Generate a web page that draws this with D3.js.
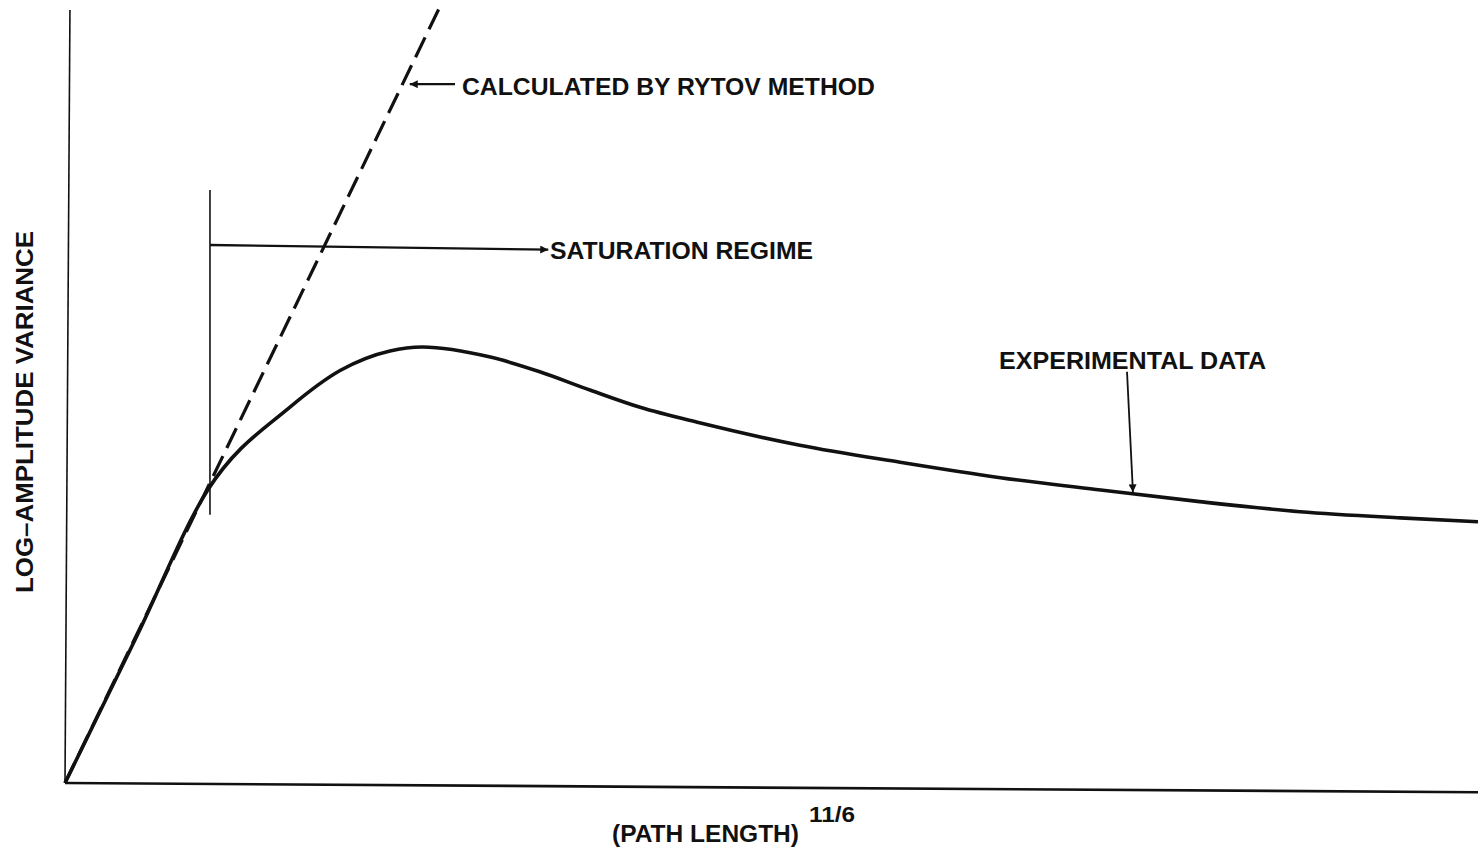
<!DOCTYPE html>
<html>
<head>
<meta charset="utf-8">
<script src="https://cdn.jsdelivr.net/npm/d3@7"></script>
<style>
  body { margin: 0; background: #fff; }
  text { font-family: "Liberation Sans", Arial, sans-serif; font-weight: bold; fill: #111; }
</style>
</head>
<body>
<div id="chart-area"></div>
<script>
// values (x and y in arbitrary units, 0..100)
var expX = [0, 5, 10.1, 15.9, 19.5, 23.0, 25.3, 30.1, 33.6, 37.2, 40.7, 44.9, 52.0, 59.1, 66.2, 73.3, 80.3, 87.4, 94.5, 100];
var expY = [0, 18.7, 37.9, 48.6, 53.4, 55.9, 56.4, 55.1, 53.2, 50.8, 48.6, 46.6, 43.7, 41.5, 39.5, 37.9, 36.4, 35.1, 34.3, 33.8];
var rytovX = [0, 26.5];
var rytovY = [0, 100.3];

var W = 1478, H = 850;
var svg = d3.select("#chart-area").append("svg").attr("width", W).attr("height", H);

var x = d3.scaleLinear().domain([0, 100]).range([65, 1478]);
var y = d3.scaleLinear().domain([0, 100]).range([783, 10]);

// arrow heads
var defs = svg.append("defs");
defs.append("marker").attr("id", "head")
    .attr("viewBox", "0 0 10 10").attr("refX", 10).attr("refY", 5)
    .attr("markerWidth", 15).attr("markerHeight", 8).attr("markerUnits", "userSpaceOnUse")
    .attr("orient", "auto")
    .append("path").attr("d", "M0,0 L10,5 L0,10 Z").attr("fill", "#111");

// axes (plain lines, no ticks)
svg.append("line")
   .attr("x1", x(0.35)).attr("y1", y(100))
   .attr("x2", x(0)).attr("y2", y(0))
   .attr("stroke", "#111").attr("stroke-width", 1.6);
svg.append("line")
   .attr("x1", x(0)).attr("y1", y(0))
   .attr("x2", x(100)).attr("y2", y(-1.2))
   .attr("stroke", "#111").attr("stroke-width", 2.6);

// rytov (dashed)
var line = d3.line().x(function(d){ return x(d[0]); }).y(function(d){ return y(d[1]); });
svg.append("path")
   .datum(d3.zip(rytovX, rytovY))
   .attr("d", line)
   .attr("fill", "none").attr("stroke", "#111").attr("stroke-width", 3.2)
   .attr("stroke-dasharray", "22,9");

// experimental data (solid)
var curve = d3.line().curve(d3.curveMonotoneX)
   .x(function(d){ return x(d[0]); }).y(function(d){ return y(d[1]); });
svg.append("path")
   .datum(d3.zip(expX, expY))
   .attr("d", curve)
   .attr("fill", "none").attr("stroke", "#111").attr("stroke-width", 3.6)
   .attr("stroke-linejoin", "round");

// saturation regime marker
svg.append("line")
   .attr("x1", x(10.26)).attr("y1", y(76.7))
   .attr("x2", x(10.26)).attr("y2", y(34.7))
   .attr("stroke", "#111").attr("stroke-width", 1.6);
svg.append("line")
   .attr("x1", x(10.26)).attr("y1", y(69.6))
   .attr("x2", x(34.2)).attr("y2", y(69.0))
   .attr("stroke", "#111").attr("stroke-width", 2.4)
   .attr("marker-end", "url(#head)");

// rytov label arrow
svg.append("line")
   .attr("x1", x(27.6)).attr("y1", y(90.4))
   .attr("x2", x(24.4)).attr("y2", y(90.4))
   .attr("stroke", "#111").attr("stroke-width", 2.2)
   .attr("marker-end", "url(#head)");

// experimental label arrow
svg.append("line")
   .attr("x1", x(75.16)).attr("y1", y(53.2))
   .attr("x2", x(75.58)).attr("y2", y(37.6))
   .attr("stroke", "#111").attr("stroke-width", 1.8)
   .attr("marker-end", "url(#head)");

// labels
svg.append("text").attr("x", 462).attr("y", 95).style("font-size", "23px")
   .attr("textLength", 413).attr("lengthAdjust", "spacingAndGlyphs")
   .text("CALCULATED BY RYTOV METHOD");
svg.append("text").attr("x", 550).attr("y", 259).style("font-size", "23px")
   .attr("textLength", 263).attr("lengthAdjust", "spacingAndGlyphs")
   .text("SATURATION REGIME");
svg.append("text").attr("x", 999).attr("y", 369).style("font-size", "23px")
   .attr("textLength", 267).attr("lengthAdjust", "spacingAndGlyphs")
   .text("EXPERIMENTAL DATA");

// axis labels
svg.append("text").attr("x", 612).attr("y", 842).style("font-size", "23px")
   .attr("textLength", 187).attr("lengthAdjust", "spacingAndGlyphs")
   .text("(PATH LENGTH)");
svg.append("text").attr("x", 809).attr("y", 822).style("font-size", "22px")
   .attr("textLength", 46).attr("lengthAdjust", "spacingAndGlyphs")
   .text("11/6");
svg.append("text")
   .attr("transform", "translate(33,412) rotate(-90)")
   .attr("text-anchor", "middle").style("font-size", "23px")
   .attr("textLength", 362).attr("lengthAdjust", "spacingAndGlyphs")
   .text("LOG\u2013AMPLITUDE VARIANCE");
</script>
</body>
</html>
